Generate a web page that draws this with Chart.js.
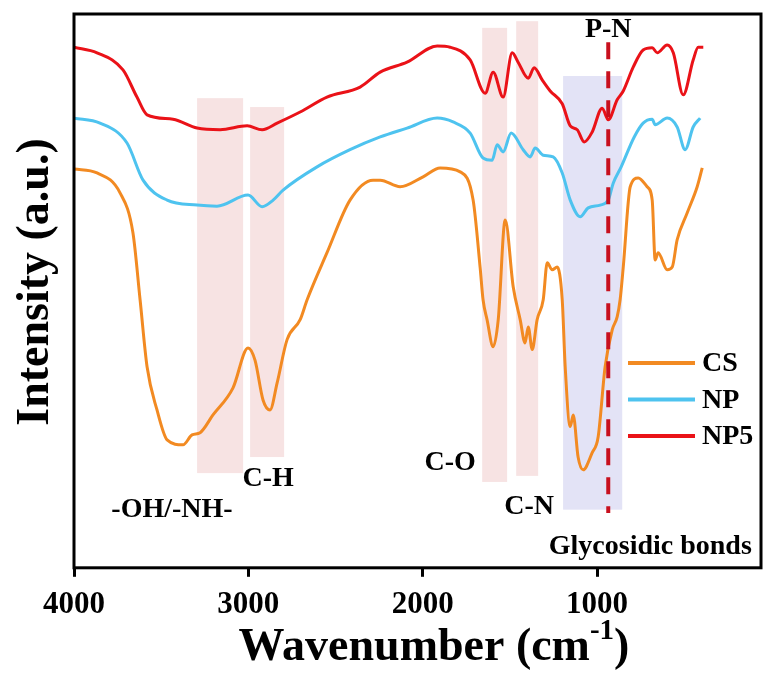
<!DOCTYPE html>
<html lang="en">
<head>
    <meta charset="UTF-8">
    <title>FTIR Spectra</title>
    <script src="https://cdn.jsdelivr.net/npm/chart.js"></script>
    <style>
        body {
            margin: 0;
            background-color: #fff;
        }

        .chart-box {
            width: 763px;
            height: 673px;
        }
    </style>
</head>
<body>

    <div class="chart-box">
        <canvas id="ftirChart"></canvas>
    </div>

    <script>
        // wavenumber (cm-1) and intensity (a.u.)
        const csWave = [4000, 3868, 3736, 3662, 3621, 3581, 3524, 3466, 3375, 3323, 3277, 3203, 3088, 3002, 2962, 2916, 2876, 2835, 2778, 2703, 2663, 2549, 2417, 2285, 2244, 2130, 1998, 1900, 1785, 1711, 1671, 1654, 1631, 1596, 1567, 1527, 1481, 1441, 1413, 1395, 1372, 1344, 1309, 1286, 1258, 1229, 1200, 1183, 1154, 1137, 1109, 1080, 1028, 994, 954, 913, 885, 868, 850, 810, 764, 713, 684, 667, 650, 598, 569, 541, 483, 426, 397];
        const csInt = [72.0, 71.3, 67.7, 60.5, 48.4, 36.3, 28.5, 23.1, 22.2, 24.0, 24.4, 27.6, 32.5, 39.7, 37.5, 30.3, 28.5, 33.4, 41.2, 44.8, 48.4, 56.9, 66.4, 70.0, 70.0, 68.8, 70.6, 72.2, 71.5, 66.4, 54.3, 48.4, 44.8, 39.9, 44.8, 62.8, 50.7, 44.8, 40.6, 43.5, 39.4, 44.8, 48.4, 55.1, 53.8, 54.3, 48.4, 36.3, 25.5, 27.6, 20.0, 17.7, 20.8, 23.6, 36.3, 43.0, 45.3, 48.4, 54.3, 68.8, 70.4, 68.8, 66.4, 55.6, 56.9, 53.8, 54.3, 59.2, 64.1, 68.8, 72.2];

        const npWave = [4000, 3851, 3696, 3604, 3466, 3294, 3180, 3002, 2921, 2858, 2801, 2606, 2417, 2244, 2090, 1917, 1826, 1728, 1654, 1602, 1573, 1539, 1493, 1424, 1384, 1355, 1309, 1252, 1200, 1154, 1097, 1051, 982, 936, 907, 862, 787, 736, 684, 667, 598, 541, 495, 449, 409];
        const npInt = [81.2, 80.3, 76.7, 70.0, 66.4, 65.5, 65.3, 67.3, 65.2, 66.4, 68.2, 72.4, 75.5, 77.8, 79.4, 81.2, 80.5, 78.5, 74.0, 73.6, 76.4, 75.1, 78.5, 75.5, 74.2, 75.8, 74.5, 74.2, 71.3, 66.4, 63.4, 65.0, 65.5, 66.4, 69.5, 72.4, 77.8, 80.3, 81.0, 80.0, 81.2, 79.6, 75.5, 79.6, 81.2];

        const np5Wave = [4000, 3868, 3719, 3639, 3581, 3432, 3294, 3162, 3007, 2921, 2835, 2703, 2549, 2359, 2244, 2090, 1917, 1843, 1728, 1642, 1596, 1539, 1487, 1453, 1395, 1361, 1315, 1269, 1200, 1154, 1114, 1074, 1028, 971, 936, 885, 850, 793, 736, 684, 655, 598, 563, 506, 449, 420, 391];
        const np5Int = [94.0, 93.0, 89.9, 85.0, 81.8, 81.0, 79.4, 79.1, 79.8, 79.1, 80.3, 82.3, 85.0, 86.8, 89.5, 91.3, 94.2, 94.0, 91.7, 85.7, 89.5, 85.0, 93.0, 91.3, 88.4, 90.3, 88.1, 86.1, 83.8, 79.8, 79.1, 76.9, 78.7, 83.0, 80.9, 84.5, 86.1, 90.4, 93.5, 93.9, 93.0, 94.4, 93.0, 85.4, 91.7, 94.0, 94.0];

        const xTicks = [4000, 3000, 2000, 1000];

        // highlighted bands: wavenumber range and intensity extent
        const bandFrom = [3294, 2990, 1659, 1464, 1195];
        const bandTo = [3030, 2795, 1516, 1338, 856];
        const bandTop = [84.8, 83.2, 97.5, 98.7, 88.8];
        const bandBottom = [17.1, 20.0, 15.5, 16.6, 10.5];
        const bandKind = ['pink', 'pink', 'pink', 'pink', 'blue'];

        // P-N marker
        const pnWave = 936;
        const pnTop = 94.9;
        const pnBottom = 9.9;

        const noteText = ['-OH/-NH-', 'C-H', 'C-O', 'C-N', 'Glycosidic bonds', 'P-N'];
        const noteWave = [3438, 2887, 1843, 1390, 695, 936];
        const noteInt = [10.5, 16.1, 19.0, 11.0, 3.8, 97.1];

        const serif = '"Liberation Serif", "Times New Roman", serif';

        function toPoints(waves, values) {
            return waves.map((w, i) => ({ x: w, y: values[i] }));
        }

        const bandsPlugin = {
            id: 'bands',
            beforeDatasetsDraw(chart) {
                const { ctx, scales: { x, y } } = chart;
                ctx.save();
                bandFrom.forEach((from, i) => {
                    const x1 = x.getPixelForValue(from);
                    const x2 = x.getPixelForValue(bandTo[i]);
                    const y1 = y.getPixelForValue(bandTop[i]);
                    const y2 = y.getPixelForValue(bandBottom[i]);
                    ctx.fillStyle = bandKind[i] === 'blue' ? '#e3e3f6' : '#f7e3e3';
                    ctx.fillRect(x1, y1, x2 - x1, y2 - y1);
                });
                ctx.restore();
            }
        };

        const notesPlugin = {
            id: 'notes',
            afterDatasetsDraw(chart) {
                const { ctx, scales: { x, y } } = chart;
                ctx.save();

                // dashed P-N line
                const px = x.getPixelForValue(pnWave);
                ctx.strokeStyle = '#c8101e';
                ctx.lineWidth = 4;
                ctx.setLineDash([17, 12]);
                ctx.beginPath();
                ctx.moveTo(px, y.getPixelForValue(pnTop));
                ctx.lineTo(px, y.getPixelForValue(pnBottom));
                ctx.stroke();
                ctx.setLineDash([]);

                ctx.fillStyle = '#000';
                ctx.font = 'bold 28px ' + serif;
                ctx.textAlign = 'center';
                ctx.textBaseline = 'middle';
                noteText.forEach((t, i) => {
                    ctx.fillText(t, x.getPixelForValue(noteWave[i]), y.getPixelForValue(noteInt[i]));
                });
                ctx.restore();
            },
            afterDraw(chart) {
                const { ctx, chartArea: a } = chart;
                ctx.save();

                // frame
                ctx.strokeStyle = '#000';
                ctx.lineWidth = 3;
                ctx.strokeRect(a.left, a.top, a.right - a.left, a.bottom - a.top);

                // legend
                ctx.font = 'bold 28px ' + serif;
                ctx.textAlign = 'left';
                ctx.textBaseline = 'middle';
                chart.data.datasets.forEach((ds, i) => {
                    const ly = 363 + i * 36.5;
                    ctx.strokeStyle = ds.borderColor;
                    ctx.lineWidth = 4;
                    ctx.beginPath();
                    ctx.moveTo(a.right - 133, ly);
                    ctx.lineTo(a.right - 66, ly);
                    ctx.stroke();
                    ctx.fillStyle = '#000';
                    ctx.fillText(ds.label, a.right - 59, ly + 1);
                });

                // x title with superscript
                ctx.textBaseline = 'alphabetic';
                const big = 'bold 46px ' + serif;
                const small = 'bold 29px ' + serif;
                ctx.font = big;
                const w1 = ctx.measureText('Wavenumber (cm').width;
                const w3 = ctx.measureText(')').width;
                ctx.font = small;
                const w2 = ctx.measureText('-1').width;
                let tx = 434 - (w1 + w2 + w3) / 2;
                ctx.font = big;
                ctx.fillText('Wavenumber (cm', tx, 660);
                tx += w1;
                ctx.font = small;
                ctx.fillText('-1', tx, 639);
                tx += w2;
                ctx.font = big;
                ctx.fillText(')', tx, 660);

                // y title
                ctx.translate(48, 282);
                ctx.rotate(-Math.PI / 2);
                ctx.textAlign = 'center';
                ctx.fillText('Intensity (a.u.)', 0, 0);
                ctx.restore();
            }
        };

        const ctx = document.getElementById('ftirChart').getContext('2d');

        new Chart(ctx, {
            type: 'line',
            data: {
                datasets: [
                    { label: 'CS', data: toPoints(csWave, csInt), borderColor: '#f28a22' },
                    { label: 'NP', data: toPoints(npWave, npInt), borderColor: '#4ec3ef' },
                    { label: 'NP5', data: toPoints(np5Wave, np5Int), borderColor: '#ea1218' }
                ]
            },
            options: {
                responsive: true,
                maintainAspectRatio: false,
                animation: false,
                devicePixelRatio: 1,
                layout: {
                    padding: { left: 74, top: 14, right: 2, bottom: 39 }
                },
                elements: {
                    point: { radius: 0 },
                    line: { borderWidth: 3, cubicInterpolationMode: 'monotone' }
                },
                plugins: {
                    legend: { display: false },
                    tooltip: { enabled: false }
                },
                scales: {
                    x: {
                        type: 'linear',
                        reverse: true,
                        min: 60,
                        max: 4000,
                        afterBuildTicks: (scale) => {
                            scale.ticks = xTicks.map(v => ({ value: v }));
                        },
                        grid: {
                            drawOnChartArea: false,
                            drawTicks: true,
                            tickLength: 9,
                            tickWidth: 3,
                            tickColor: '#000'
                        },
                        border: { display: false },
                        ticks: {
                            color: '#000',
                            padding: 10,
                            maxRotation: 0,
                            font: { family: serif, size: 31, weight: 'bold' },
                            callback: (value) => String(value)
                        }
                    },
                    y: {
                        display: false,
                        min: 0,
                        max: 100
                    }
                }
            },
            plugins: [bandsPlugin, notesPlugin]
        });
    </script>

</body>
</html>
